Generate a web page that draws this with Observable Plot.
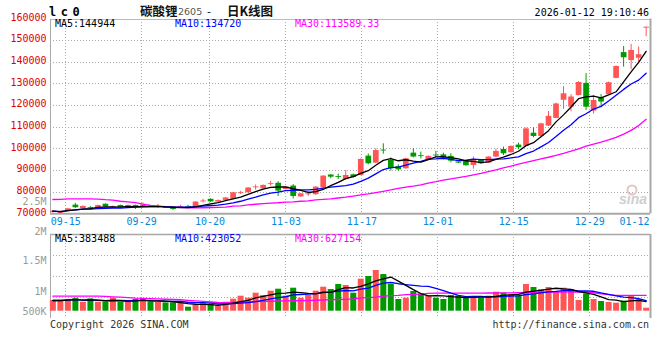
<!DOCTYPE html>
<html><head><meta charset="utf-8">
<script src="https://cdn.jsdelivr.net/npm/d3@7"></script>
<script src="https://cdn.jsdelivr.net/npm/@observablehq/plot@0.6"></script>
<style>
html,body{margin:0;padding:0;background:#fff;}
#chart{position:relative;width:660px;height:360px;overflow:hidden;background:#fff;}
#chart svg{position:absolute;left:0;top:0;}
</style></head><body><div id="chart"></div>
<script>
// ---- data ----
const dateLabels = ["09-15","09-29","10-20","11-03","11-17","12-01","12-15","12-29","01-12"];
const dateIndex  = [2,12,21,31,41,51,61,71,79];
const priceTicks = [70000,80000,90000,100000,110000,120000,130000,140000,150000,160000];
const volTickValues = [500000,1000000,1500000,2000000,2500000];
const volTickLabels = ["500K","1M","1.5M","2M","2.5M"];
const priceMaText = ["MA5:144944","MA10:134720","MA30:113589.33"];
const volMaText = ["MA5:383488","MA10:423052","MA30:627154"];

const open = [70600,70200,71400,74000,72400,72900,72400,74400,72800,73800,
 72900,73800,73200,73700,73100,72900,73000,72900,73400,72900,
 75500,76700,75400,76200,76700,79300,79700,82000,81500,83500,
 84100,81200,82800,77800,78800,78800,82000,87900,87200,85800,
 88000,87700,96600,93400,99400,94600,91800,90800,98000,96800,
 94900,97100,97200,96500,93900,94300,92300,94600,93400,96200,
 99700,98200,101700,101200,107200,105700,110500,114000,122400,119200,
 124600,130200,117400,123400,125000,132500,144400,140700,141800,155700];
const high = [71500,71200,72500,74800,73600,73300,74000,74600,73600,74000,
 74000,74000,75000,73900,74300,73200,73300,73900,73900,75600,
 76700,76900,76400,77500,79900,80400,82100,83300,83300,85000,
 84800,82500,83500,79400,80300,82500,87600,88000,88300,90000,
 88300,95300,97600,100000,102300,95800,92600,95600,100000,98500,
 96700,98900,98000,97700,94000,94500,96200,94800,96300,99800,
 100800,101300,102600,109700,109700,111800,117200,121100,128700,125000,
 131000,134700,124600,125000,130800,138200,147200,148200,147000,156300];
const low = [70300,70000,71200,72500,72200,72000,72300,73000,72400,72800,
 72800,72000,73100,72900,72500,72400,71600,72600,72700,72800,
 75000,75300,75300,76000,76500,78900,79600,80900,81400,82800,
 78000,81000,76900,77500,78000,78600,81900,86200,85800,85600,
 86500,87500,92600,93200,97500,89700,89700,90500,95800,95300,
 94700,95800,94900,93500,93200,92000,90600,92900,93300,95900,
 96900,98000,99600,101000,105100,105500,110300,113900,118200,117100,
 124400,117700,116000,119000,124800,132300,137700,136500,139200,151700];
const close = [71200,70900,72300,72800,73400,72500,73800,73200,73200,72900,
 73800,72900,74100,73000,73500,72500,72000,73300,73000,75400,
 75900,75500,76100,77300,79700,79700,81900,82400,83100,83900,
 80500,82300,78000,79200,79200,82300,87400,86900,86800,87700,
 86800,95100,93100,99200,99000,90800,90300,95400,96200,96400,
 96500,96700,95800,94300,93400,92200,95100,93100,96200,98800,
 97700,101100,100500,109200,105700,111500,115000,120700,125400,123900,
 130600,119200,122300,121600,130500,138000,142000,145400,143400,156100];
const priceMA30 = [76600,76700,76900,76900,76900,76900,76800,76500,76300,75800,
 75500,75200,74500,73900,73500,73300,73100,73000,72800,72800,
 72800,72900,73000,73100,73500,73700,74100,74400,74700,74900,
 75100,75400,75500,75800,76000,76400,76700,76900,77300,77700,
 78200,78700,79200,79800,80400,81000,81700,82300,82800,83400,
 84200,84800,85500,86100,86700,87300,88000,88700,89500,90300,
 91200,92000,92900,93700,94500,95300,96100,97000,97900,98900,
 100000,101200,102200,103100,104100,105300,106800,108500,110700,113589];
const volume = [425000,425000,464000,516000,357000,488000,357000,357000,516000,357000,
 357000,464000,504000,357000,357000,330000,330000,330000,159000,226000,
 318000,266000,187000,357000,476000,596000,516000,715000,623000,794000,
 873000,596000,913000,516000,623000,794000,953000,860000,1060000,1020000,
 715000,1270000,1378000,1616000,1457000,1060000,464000,516000,782000,687000,
 596000,516000,464000,623000,596000,516000,556000,516000,596000,754000,
 715000,663000,596000,1060000,941000,861000,941000,754000,913000,861000,
 425000,687000,464000,385000,345000,318000,397000,623000,464000,119000];
const volumeMA30 = [596000,596000,596000,596000,596000,596000,596000,590000,570000,556000,
 540000,516000,505000,495000,488000,475000,464000,455000,430000,411000,
 390000,365000,345000,335000,345000,355000,360000,385000,390000,395000,
 405000,411000,415000,420000,425000,435000,445000,458000,464000,470000,
 490000,525000,540000,560000,600000,620000,630000,660000,670000,680000,
 705000,715000,715000,715000,715000,716000,718000,720000,722000,723000,
 725000,728000,732000,742000,748000,752000,756000,758000,760000,762000,
 760000,760000,732000,691000,654000,630000,628000,628000,627000,627154];

// ---- build rows ----
const rows = close.map((c, i) => ({i, open: open[i], high: high[i], low: low[i], close: c,
  vol: volume[i], ma30: priceMA30[i], vma30: volumeMA30[i]}));
const up = rows.filter(d => d.close >= d.open);
const down = rows.filter(d => d.close < d.open);
const dateTicks = dateIndex.map((idx, k) => ({idx, label: dateLabels[k]}));
const gridTicks = dateTicks.slice(0, -1);
const lastTick = dateTicks.slice(-1);

const RED = "#ff5555", GREEN = "#009a00", BLUE = "#0000ff", MAG = "#ff00ff";
const GRID = "#aaa", BORDER = "#a8a8a8", DATE = "#0a86d8", PRICE = "#e00000";
const W = 660, H = 360;
const STYLE = "background:transparent;overflow:visible;font-family:'DejaVu Sans Mono',monospace;font-size:10px;";
const dot = {stroke: GRID, strokeDasharray: "1,2", shapeRendering: "crispEdges"};
const chart = document.getElementById("chart");

// ---- price panel grid, frame and date labels ----
chart.append(Plot.plot({
  width: W, height: H, style: STYLE,
  marginLeft: 50, marginRight: 10, marginTop: 18.5, marginBottom: H - 213.3,
  x: {domain: [0, 79], axis: null},
  y: {domain: [70000, 160000], axis: null},
  marks: [
    Plot.ruleX(gridTicks, {x: "idx", ...dot}),
    Plot.ruleY(priceTicks.filter(v => v > 70000 && v < 160000), {y: d => d, ...dot}),
    Plot.ruleY([160000], {stroke: "#bbb", shapeRendering: "crispEdges"}),
    Plot.ruleY([70000], {stroke: BORDER, strokeWidth: 2}),
    Plot.ruleX([0], {stroke: BORDER, shapeRendering: "crispEdges"}),
    Plot.ruleX([79], {stroke: BORDER, strokeWidth: 2}),
    Plot.text(gridTicks, {x: "idx", text: "label", frameAnchor: "bottom", lineAnchor: "top", dy: 4.5, fill: DATE}),
    Plot.text(lastTick, {x: "idx", text: "label", frameAnchor: "bottom", lineAnchor: "top", dy: 4.5, dx: -1, textAnchor: "end", fill: DATE})
  ]
}));

// ---- volume panel grid and frame ----
chart.append(Plot.plot({
  width: W, height: H, style: STYLE,
  marginLeft: 50, marginRight: 10, marginTop: 234, marginBottom: 42,
  x: {domain: [0, 79], axis: null},
  y: {domain: [0, 4], axis: null},
  marks: [
    Plot.ruleX(gridTicks, {x: "idx", ...dot}),
    Plot.ruleY([1, 2, 3], {y: d => d, ...dot}),
    Plot.ruleY([4], {stroke: BORDER, strokeWidth: 1.5}),
    Plot.ruleX([0], {stroke: BORDER, shapeRendering: "crispEdges"}),
    Plot.ruleX([79], {stroke: BORDER, strokeWidth: 2})
  ]
}));

// ---- candles + MA lines ----
chart.append(Plot.plot({
  width: W, height: H, style: STYLE,
  marginLeft: 48.6, marginRight: 10.6, marginTop: 18.3, marginBottom: H - 213.3,
  x: {domain: [-0.5, 79.5], axis: null},
  y: {domain: [70000, 160000], axis: null},
  marks: [
    Plot.text(priceTicks, {y: d => d, text: d => String(d), frameAnchor: "left", textAnchor: "end", dx: -2.6, dy: -1.5, fill: PRICE}),
    Plot.ruleX(up, {x: "i", y1: "low", y2: "high", stroke: RED, strokeWidth: 1}),
    Plot.ruleX(down, {x: "i", y1: "low", y2: "high", stroke: GREEN, strokeWidth: 1}),
    Plot.ruleX(up, {x: "i", y1: "open", y2: "close", stroke: RED, strokeWidth: 5.7}),
    Plot.ruleX(down, {x: "i", y1: "open", y2: "close", stroke: GREEN, strokeWidth: 5.7}),
    Plot.lineY(rows, {x: "i", y: "ma30", stroke: MAG, strokeWidth: 1.3}),
    Plot.lineY(rows, Plot.windowY({k: 10, anchor: "end"}, {x: "i", y: "close", stroke: BLUE, strokeWidth: 1.3})),
    Plot.lineY(rows, Plot.windowY({k: 5, anchor: "end"}, {x: "i", y: "close", stroke: "#000", strokeWidth: 1.3}))
  ]
}));

// ---- volume bars + MA lines ----
chart.append(Plot.plot({
  width: W, height: H, style: STYLE,
  marginLeft: 48.6, marginRight: 10.6, marginTop: 235.1, marginBottom: H - 310.7,
  x: {domain: [-0.5, 79.5], axis: null},
  y: {domain: [0, 3000000], axis: null},
  marks: [
    Plot.ruleX(up, {x: "i", y1: 0, y2: "vol", stroke: RED, strokeWidth: 6}),
    Plot.ruleX(down, {x: "i", y1: 0, y2: "vol", stroke: GREEN, strokeWidth: 6}),
    Plot.lineY(rows, {x: "i", y: "vma30", stroke: MAG, strokeWidth: 1.3}),
    Plot.lineY(rows, Plot.windowY({k: 10, anchor: "end"}, {x: "i", y: "vol", stroke: BLUE, strokeWidth: 1.3})),
    Plot.lineY(rows, Plot.windowY({k: 5, anchor: "end"}, {x: "i", y: "vol", stroke: "#000", strokeWidth: 1.3}))
  ]
}));

// ---- volume axis labels (Sina places them unevenly) ----
chart.append(Plot.plot({
  width: W, height: H, style: STYLE,
  marginLeft: 50, marginRight: 10,
  x: {domain: [0, 1], axis: null},
  y: {type: "linear", domain: volTickValues, range: [311, 291, 260, 231.5, 201.3], axis: null},
  marks: [
    Plot.text(volTickValues, {y: d => d, text: (d, i) => volTickLabels[i], frameAnchor: "left", textAnchor: "end", dx: -4, fill: "#9a9a9a"})
  ]
}));

// ---- titles, legends, captions ----
const svg = d3.select(chart).append("svg").attr("width", W).attr("height", H)
  .style("font-family", "'DejaVu Sans Mono',monospace").style("font-size", "10px");
function t(x, y, s, attrs = {}) {
  const e = svg.append("text").attr("x", x).attr("y", y).text(s);
  for (const k in attrs) e.attr(k, attrs[k]);
  return e;
}
const maColors = ["#000", BLUE, MAG];
const maX = [55, 175, 295];
priceMaText.forEach((s, k) => t(maX[k], 27.4, s, {fill: maColors[k]}));
volMaText.forEach((s, k) => t(maX[k], 242.3, s, {fill: maColors[k]}));
t(49, 15.7, "lc0", {"font-weight": "bold", "font-size": "12px", "letter-spacing": "4.5px", fill: "#000"});
t(140, 15.8, "碳酸锂", {"font-family": "'Noto Sans CJK SC'", "font-size": "12.5px", "font-weight": "bold", fill: "#111"});
t(178, 15.3, "2605", {"font-family": "'DejaVu Sans'", "font-size": "9.5px", fill: "#555"});
t(207, 15.3, "-", {"font-family": "'DejaVu Sans'", "font-size": "11px", fill: "#111"});
t(227, 15.8, "日K线图", {"font-family": "'Noto Sans CJK SC'", "font-size": "12.5px", "font-weight": "bold", fill: "#111"});
t(649, 15.6, "2026-01-12 19:10:46", {"text-anchor": "end", fill: "#000"});
t(50, 327.6, "Copyright 2026 SINA.COM", {fill: "#333"});
t(649, 327.6, "http://finance.sina.com.cn", {"text-anchor": "end", fill: "#333"});
// watermark
svg.append("circle").attr("cx", 632).attr("cy", 190).attr("r", 4.5).attr("fill", "none").attr("stroke", "#e6c4c4").attr("stroke-width", 2);
t(619, 204, "sina", {"font-family": "'Liberation Sans'", "font-style": "italic", "font-weight": "bold", "font-size": "14px", fill: "#cfcfcf"});
</script></body></html>
